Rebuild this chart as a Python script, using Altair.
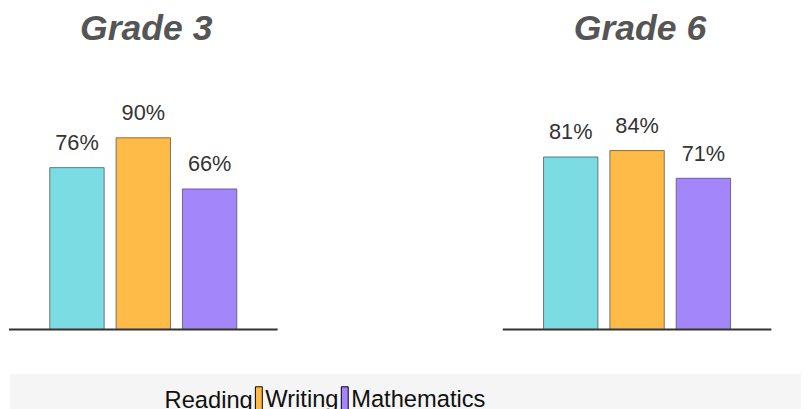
import altair as alt
import pandas as pd

# ---- data ----
grades = ["Grade 3", "Grade 6"]
subjects = ["Reading", "Writing", "Mathematics"]
grade3_values = [76, 90, 66]
grade6_values = [81, 84, 71]
subject_colors = ["#7BDCE3", "#FFBB47", "#A386FA"]
legend_symbol_opacity = [0, 1, 1]
baseline_value = [0]

rows = []
for g, vals in zip(grades, [grade3_values, grade6_values]):
    for s, v in zip(subjects, vals):
        rows.append({"grade": g, "subject": s, "value": v})
df = pd.DataFrame(rows)
base_df = pd.DataFrame({"base": baseline_value})

FONT = "Liberation Sans"
Y_MAX = 121
PANEL_W = 270
PANEL_H = 261

legend = alt.Legend(
    title=None,
    orient="none",
    legendX=145.5,
    legendY=14,
    direction="horizontal",
    padding=0,
    columnPadding=0,
    symbolType="M-0.875,-3.25H0.875V3.25H-0.875Z",
    symbolSize=64,
    symbolOffset=alt.ExprRef("-7.5"),
    symbolStrokeWidth=1,
    symbolOpacity=1,
    labelFont=FONT,
    labelFontSize=24,
    labelColor="#111111",
    labelOffset=alt.ExprRef("-5.5"),
    labelLimit=400,
    zindex=1,
)

color_scale = alt.Scale(domain=subjects, range=subject_colors)


def panel(g):
    base = alt.Chart(df).transform_filter(alt.datum.grade == g)
    x = alt.X(
        "subject:N",
        sort=subjects,
        scale=alt.Scale(domain=subjects, paddingInner=0.18, paddingOuter=0.6),
        axis=None,
    )
    y = alt.Y("value:Q", scale=alt.Scale(domain=[0, Y_MAX]), axis=None)
    bars = base.mark_bar(
        stroke="#4d4d4d", strokeWidth=1, strokeOpacity=0.75
    ).encode(
        x=x, y=y,
        color=alt.Color("subject:N", scale=color_scale, legend=None),
    )
    text = base.transform_calculate(label="datum.value + '%'").mark_text(
        font=FONT, fontSize=22, color="#333333", baseline="alphabetic", dy=-18
    ).encode(x=x, y=y, text="label:N")
    rule = alt.Chart(base_df).mark_rule(
        color="#333333", strokeWidth=2, strokeCap="square"
    ).encode(
        y=alt.Y("base:Q", scale=alt.Scale(domain=[0, Y_MAX]), axis=None)
    )
    return alt.layer(bars, text, rule).properties(
        width=PANEL_W,
        height=PANEL_H,
        title=alt.TitleParams(
            text=g,
            font=FONT,
            fontSize=36,
            fontStyle="italic",
            fontWeight="bold",
            color="#555555",
            anchor="middle",
            baseline="alphabetic",
            dx=3,
            offset=alt.ExprRef("-4"),
        ),
    )


panels = alt.hconcat(panel(grades[0]), panel(grades[1]), spacing=226)

band = alt.Chart(df).mark_point(
    filled=True, size=0, opacity=1, stroke="#000000", strokeWidth=1
).encode(
    color=alt.Color("subject:N", scale=color_scale, legend=legend),
    opacity=alt.Opacity(
        "subject:N",
        scale=alt.Scale(type="ordinal", domain=subjects, range=legend_symbol_opacity),
        legend=legend,
    ),
).properties(
    width=801,
    height=36,
    view=alt.ViewBackground(fill="#f5f5f5", strokeWidth=0),
)

chart = alt.vconcat(panels, band, spacing=43).properties(
    padding={"left": 0, "top": 1, "right": 0, "bottom": 0}
).resolve_legend(
    color="independent", opacity="independent"
).configure_view(strokeWidth=0)

chart.save("out.html", embed_options={"renderer": "svg", "actions": False})
